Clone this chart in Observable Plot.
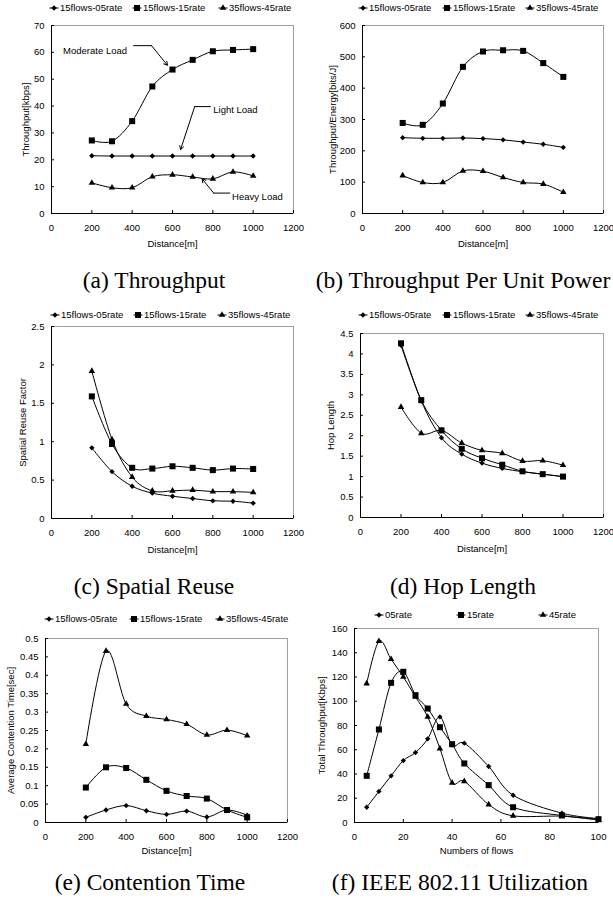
<!DOCTYPE html>
<html><head><meta charset="utf-8">
<script src="https://cdn.jsdelivr.net/npm/d3@7"></script>
<script src="https://cdn.jsdelivr.net/npm/@observablehq/plot@0.6"></script>
<style>
body{margin:0;background:#fff;}
#root{position:relative;width:613px;height:903px;overflow:hidden;background:#fff;font-family:"Liberation Sans",Arial,sans-serif;}
.abs{position:absolute;}
.caption{position:absolute;width:400px;text-align:center;font-family:"Liberation Serif","Times New Roman",serif;font-size:23.5px;line-height:23.5px;color:#000;white-space:nowrap;}
</style></head>
<body><div id="root"></div>
<script>
// ---------- data ----------
const distance = [200, 300, 400, 500, 600, 700, 800, 900, 1000];
const flows = [5, 10, 15, 20, 25, 30, 35, 40, 45, 55, 65, 85, 100];
const seriesNames = ["15flows-05rate", "15flows-15rate", "35flows-45rate"];
const rateNames = ["05rate", "15rate", "45rate"];

// (a) Throughput [kbps]
const thr05 = [21.5, 21.4, 21.4, 21.4, 21.4, 21.4, 21.4, 21.4, 21.4];
const thr15 = [27.2, 26.9, 34.4, 47.3, 53.6, 57.2, 60.4, 60.9, 61.2];
const thr45 = [11.4, 9.6, 9.6, 13.7, 14.4, 13.6, 12.9, 15.5, 14.0];
// (b) Throughput/Energy [bits/J]
const tpe05 = [242, 240, 240, 241, 239, 235, 228, 221, 211];
const tpe15 = [289, 283, 351, 468, 517, 521, 519, 480, 436];
const tpe45 = [121, 99, 99, 136, 135, 115, 99, 94, 68];
// (c) Spatial reuse factor
const sr05 = [0.92, 0.61, 0.42, 0.33, 0.29, 0.26, 0.23, 0.225, 0.20];
const sr15 = [1.59, 0.97, 0.66, 0.65, 0.68, 0.66, 0.63, 0.65, 0.645];
const sr45 = [1.92, 1.03, 0.54, 0.36, 0.36, 0.37, 0.35, 0.35, 0.34];
// (d) Hop length
const hop05 = [4.21, 2.85, 1.95, 1.55, 1.33, 1.20, 1.12, 1.06, 1.00];
const hop15 = [4.26, 2.87, 2.13, 1.68, 1.45, 1.29, 1.13, 1.06, 1.00];
const hop45 = [2.70, 2.06, 2.13, 1.82, 1.64, 1.57, 1.38, 1.39, 1.28];
// (e) Average contention time [sec]
const ct05 = [0.014, 0.034, 0.046, 0.032, 0.022, 0.031, 0.015, 0.034, 0.020];
const ct15 = [0.095, 0.150, 0.148, 0.116, 0.086, 0.072, 0.065, 0.034, 0.014];
const ct45 = [0.213, 0.466, 0.322, 0.289, 0.280, 0.267, 0.238, 0.251, 0.236];
// (f) Total throughput [Kbps] vs number of flows
const tot05 = [12.6, 25.6, 38.5, 51.1, 57.7, 69.0, 87.1, 63.8, 65.4, 46.2, 22.5, 7.7, 3.3];
const tot15 = [38.5, 76.7, 115.2, 124.3, 105.0, 94.0, 78.6, 64.6, 48.7, 30.8, 12.6, 5.8, 2.7];
const tot45 = [114.6, 149.5, 134.7, 120.1, 103.6, 87.1, 61.0, 32.7, 34.0, 14.8, 5.5, 5.2, 1.9];

// tick labels
const distTicks = [0, 200, 400, 600, 800, 1000, 1200];
const flowTicks = [0, 20, 40, 60, 80, 100];
const thrTicks = [0, 10, 20, 30, 40, 50, 60, 70];
const tpeTicks = [0, 100, 200, 300, 400, 500, 600];
const srTicks = [0, 0.5, 1, 1.5, 2, 2.5];
const hopTicks = [0, 0.5, 1, 1.5, 2, 2.5, 3, 3.5, 4, 4.5];
const ctTicks = [0, 0.05, 0.1, 0.15, 0.2, 0.25, 0.3, 0.35, 0.4, 0.45, 0.5];
const totTicks = [0, 20, 40, 60, 80, 100, 120, 140, 160];

// annotations of panel (a) in data coordinates
const annoText = [
  {x: 216, y: 60.4, t: "Moderate Load"},
  {x: 912, y: 38.7, t: "Light Load"},
  {x: 1021, y: 6.3, t: "Heavy Load"}
];
const annoLead = [
  {g: 0, x: 407, y: 62.5}, {g: 0, x: 496, y: 62.5},
  {g: 1, x: 788, y: 39.8}, {g: 1, x: 710, y: 39.8},
  {g: 2, x: 884, y: 7.6}, {g: 2, x: 804, y: 7.6}
];
const annoArrow = [
  {x1: 496, y1: 62.5, x2: 575, y2: 55.2},
  {x1: 710, y1: 39.8, x2: 640, y2: 23.8},
  {x1: 804, y1: 7.6, x2: 747, y2: 12.9}
];

// ---------- drawing ----------
const root = document.getElementById("root");
const SYMS = ["diamond2", "square", "triangle"];
const RADII = [2.4, 3.4, 2.4];
const FONT = "Liberation Sans, Arial, sans-serif";

function panel(cfg) {
  const [mt, mr, mb, ml] = cfg.margins;
  const fw = cfg.width - ml - mr, fh = cfg.height - mt - mb;
  const rows = [];
  cfg.series.forEach((vals, i) => vals.forEach((v, j) => rows.push({x: cfg.xs[j], y: v, s: i})));
  const marks = [
    Plot.frame({stroke: "#a0a0a0", strokeWidth: 1}),
    Plot.line(rows, {x: "x", y: "y", z: "s", curve: "cardinal", stroke: "#000", strokeWidth: 1}),
    ...[0, 1, 2].map(i => Plot.dot(rows.filter(d => d.s === i), {x: "x", y: "y", symbol: SYMS[i], r: RADII[i], fill: "#000", stroke: "none"})),
    Plot.ruleX([cfg.xDomain[0]], {stroke: "#000"}),
    Plot.ruleY([cfg.yDomain[0]], {stroke: "#000"}),
    Plot.tickX(cfg.xTicks, {x: d => d, insetTop: fh - 3, stroke: "#000"}),
    Plot.tickY(cfg.yTicks, {y: d => d, insetRight: fw - 3, stroke: "#000"}),
    Plot.axisX({ticks: cfg.xTicks, tickSize: 0, tickPadding: 11, tickFormat: d => String(d), label: null, fontSize: 9.5}),
    Plot.axisY({ticks: cfg.yTicks, tickSize: 0, tickPadding: 7, tickFormat: d => String(d), label: null, fontSize: 9.5}),
    Plot.text([cfg.xLabel], {text: d => d, frameAnchor: "bottom", dy: cfg.xLabelDy, lineAnchor: "middle", fontSize: 9.5}),
    Plot.text([cfg.yLabel], {text: d => d, frameAnchor: "left", dx: -cfg.yLabelOffset, rotate: -90, lineAnchor: "middle", textAnchor: "middle", fontSize: 9.5})
  ];
  if (cfg.extra) marks.push(...cfg.extra);
  const svg = Plot.plot({
    width: cfg.width, height: cfg.height,
    marginTop: mt, marginRight: mr, marginBottom: mb, marginLeft: ml,
    x: {domain: cfg.xDomain},
    y: {domain: cfg.yDomain},
    style: {fontFamily: FONT, fontSize: "9.5px", color: "#000", background: "transparent", overflow: "visible"},
    marks
  });
  svg.classList.add("abs");
  svg.style.left = cfg.left + "px";
  svg.style.top = cfg.top + "px";
  root.appendChild(svg);
}

function legend(names, xs, y) {
  const s = d3.create("svg").attr("class", "abs").attr("width", 613).attr("height", 20)
    .style("left", "0px").style("top", (y - 10) + "px").style("overflow", "visible");
  names.forEach((n, i) => {
    const g = s.append("g").attr("transform", `translate(${xs[i]},10)`);
    g.append("line").attr("x1", -4.5).attr("x2", 4.5).attr("stroke", "#000");
    const type = i === 0 ? d3.symbolDiamond2 : i === 1 ? d3.symbolSquare : d3.symbolTriangle;
    g.append("path").attr("d", d3.symbol(type, Math.PI * RADII[i] * RADII[i])()).attr("fill", "#000");
    g.append("text").attr("x", 6).attr("dy", "0.34em").attr("font-family", FONT).attr("font-size", 9.5).text(n);
  });
  root.appendChild(s.node());
}

function caption(t, cx, baseline) {
  const d = document.createElement("div");
  d.className = "caption";
  d.style.left = (cx - 200) + "px";
  d.style.top = (baseline - 19.7) + "px";
  d.textContent = t;
  root.appendChild(d);
}

// (a)
panel({left: 0, top: 0, width: 306, height: 255, margins: [25, 13, 42, 51],
  xs: distance, series: [thr05, thr15, thr45], xDomain: [0, 1200], xTicks: distTicks,
  yDomain: [0, 70], yTicks: thrTicks, xLabel: "Distance[m]", xLabelDy: 30,
  yLabel: "Throughput[kbps]", yLabelOffset: 26,
  extra: [
    Plot.line(annoLead, {x: "x", y: "y", z: "g", stroke: "#000", strokeWidth: 1}),
    Plot.arrow(annoArrow, {x1: "x1", y1: "y1", x2: "x2", y2: "y2", stroke: "#000", strokeWidth: 1, headLength: 6}),
    Plot.text(annoText, {x: "x", y: "y", text: "t", fontSize: 9.5})
  ]});
// (b)
panel({left: 306, top: 0, width: 307, height: 255, margins: [25, 10, 42, 56],
  xs: distance, series: [tpe05, tpe15, tpe45], xDomain: [0, 1200], xTicks: distTicks,
  yDomain: [0, 600], yTicks: tpeTicks, xLabel: "Distance[m]", xLabelDy: 30,
  yLabel: "Throughput/Energy[bits/J]", yLabelOffset: 30});
// (c)
panel({left: 0, top: 300, width: 306, height: 260, margins: [26, 13, 42, 51],
  xs: distance, series: [sr05, sr15, sr45], xDomain: [0, 1200], xTicks: distTicks,
  yDomain: [0, 2.5], yTicks: srTicks, xLabel: "Distance[m]", xLabelDy: 31,
  yLabel: "Spatial Reuse Factor", yLabelOffset: 29});
// (d)
panel({left: 306, top: 300, width: 307, height: 260, margins: [33, 10, 43, 54],
  xs: distance, series: [hop05, hop15, hop45], xDomain: [0, 1200], xTicks: distTicks,
  yDomain: [0, 4.5], yTicks: hopTicks, xLabel: "Distance[m]", xLabelDy: 31,
  yLabel: "Hop Length", yLabelOffset: 30});
// (e)
panel({left: 0, top: 600, width: 306, height: 265, margins: [38, 19, 43, 45],
  xs: distance, series: [ct05, ct15, ct45], xDomain: [0, 1200], xTicks: distTicks,
  yDomain: [0, 0.5], yTicks: ctTicks, xLabel: "Distance[m]", xLabelDy: 28,
  yLabel: "Average Contention Time[sec]", yLabelOffset: 35});
// (f)
panel({left: 306, top: 600, width: 307, height: 265, margins: [28, 15, 43, 48],
  xs: flows, series: [tot05, tot15, tot45], xDomain: [0, 100], xTicks: flowTicks,
  yDomain: [0, 160], yTicks: totTicks, xLabel: "Numbers of flows", xLabelDy: 28,
  yLabel: "Total Throughput[Kbps]", yLabelOffset: 33});

legend(seriesNames, [54, 137, 223], 8);
legend(seriesNames, [363, 447, 530], 8);
legend(seriesNames, [55, 138, 222], 315);
legend(seriesNames, [363, 447, 530], 315);
legend(seriesNames, [49, 134, 220], 619);
legend(rateNames, [379, 461, 543], 615);

caption("(a) Throughput", 154, 289);
caption("(b) Throughput Per Unit Power", 463, 289);
caption("(c) Spatial Reuse", 154, 595);
caption("(d) Hop Length", 463, 595);
caption("(e) Contention Time", 150, 891);
caption("(f) IEEE 802.11 Utilization", 460, 891);
</script>
</body></html>
